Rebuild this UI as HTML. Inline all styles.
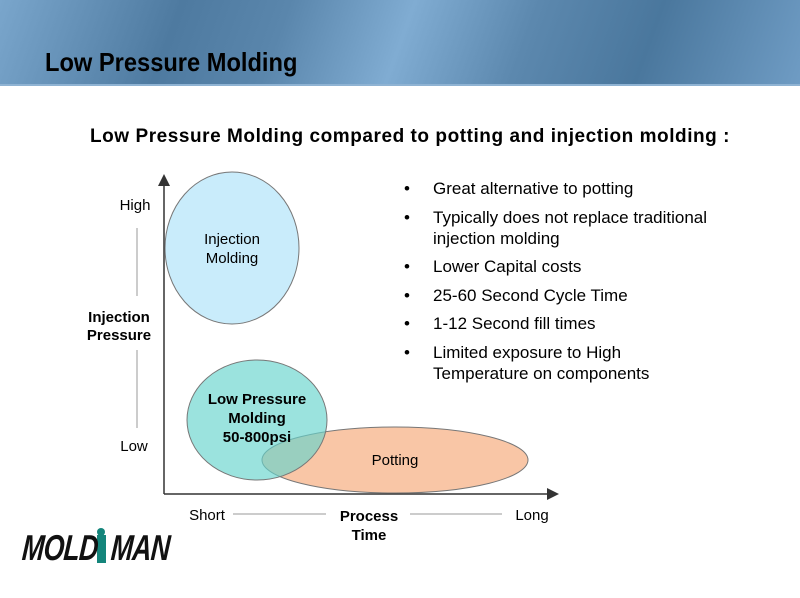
<!DOCTYPE html>
<html><head><style>
body{margin:0;width:800px;height:598px;background:#fff;font-family:"Liberation Sans",sans-serif;position:relative;overflow:hidden}
.hdr{position:absolute;left:0;top:0;width:800px;height:86px;background:linear-gradient(110deg,#7aa6cc 0%,#4e7aa0 22%,#5a86ac 35%,#80acd2 50%,#5c88ae 65%,#4a779d 80%,#6f9cc4 100%)}
.hdr:after{content:"";position:absolute;left:0;bottom:0;width:800px;height:2px;background:#8fb3d3}
.t{position:absolute;left:45px;top:47px;font-size:26px;font-weight:bold;color:#000;transform:scaleX(0.91);transform-origin:0 0;white-space:nowrap}
.sub{position:absolute;left:90px;top:126px;font-size:19px;font-weight:bold;white-space:nowrap;letter-spacing:0.55px}
.a{position:absolute;font-size:15px;text-align:center;width:140px;margin-left:-70px}
ul{position:absolute;left:404px;top:178px;width:330px;margin:0;padding:0;list-style:none;font-size:17px;line-height:21px}
li{padding-left:29px;text-indent:-29px;margin-bottom:7.5px}
li:before{content:"•";display:inline-block;width:29px;text-indent:0}
.logo{position:absolute;left:24px;top:527px;font-size:36px;font-weight:bold;font-style:italic;color:#111;transform:scaleX(0.74) skewX(-6deg);transform-origin:0 0;white-space:nowrap;letter-spacing:-1px}
</style></head><body>
<div class="hdr"><div class="t">Low Pressure Molding</div></div>
<div class="sub">Low Pressure Molding compared to potting and injection molding :</div>
<svg style="position:absolute;left:0;top:0" width="800" height="598">
<defs><marker id="ar" markerWidth="8" markerHeight="8" refX="4" refY="4" orient="auto"><path d="M0,0L8,4L0,8z" fill="#333"/></marker></defs>
<line x1="164" y1="494" x2="164" y2="180" stroke="#333" stroke-width="1.5" marker-end="url(#ar)"/>
<line x1="164" y1="494" x2="553" y2="494" stroke="#333" stroke-width="1.5" marker-end="url(#ar)"/>
<line x1="137" y1="228" x2="137" y2="296" stroke="#999"/>
<line x1="137" y1="350" x2="137" y2="428" stroke="#999"/>
<line x1="233" y1="514" x2="326" y2="514" stroke="#999"/>
<line x1="410" y1="514" x2="502" y2="514" stroke="#999"/>
<ellipse cx="232" cy="248" rx="67" ry="76" fill="#c9ecfb" stroke="#777"/>
<ellipse cx="395" cy="460" rx="133" ry="33" fill="#f9c6a6" stroke="#777"/>
<ellipse cx="257" cy="420" rx="70" ry="60" fill="#66d4cc" fill-opacity="0.65" stroke="#777"/>
<rect x="97" y="535" width="9" height="28" fill="#14857b"/><circle cx="101" cy="532" r="4" fill="#14857b"/>
</svg>
<div class="logo">MOLD&nbsp;&nbsp;MAN</div>
<div class="a" style="left:135px;top:197px">High</div>
<div class="a" style="left:134px;top:438px">Low</div>
<div class="a" style="left:119px;top:309px;font-weight:bold;line-height:18px">Injection<br>Pressure</div>
<div class="a" style="left:232px;top:230px;line-height:19px">Injection<br>Molding</div>
<div class="a" style="left:257px;top:390px;font-weight:bold;line-height:19px">Low Pressure<br>Molding<br>50-800psi</div>
<div class="a" style="left:395px;top:452px">Potting</div>
<div class="a" style="left:207px;top:507px">Short</div>
<div class="a" style="left:532px;top:507px">Long</div>
<div class="a" style="left:369px;top:507px;font-weight:bold;line-height:19px">Process<br>Time</div>
<ul>
<li>Great alternative to potting</li>
<li>Typically does not replace traditional<br>injection molding</li>
<li>Lower Capital costs</li>
<li>25-60 Second Cycle Time</li>
<li>1-12 Second fill times</li>
<li>Limited exposure to High<br>Temperature on components</li>
</ul>
</body></html>
